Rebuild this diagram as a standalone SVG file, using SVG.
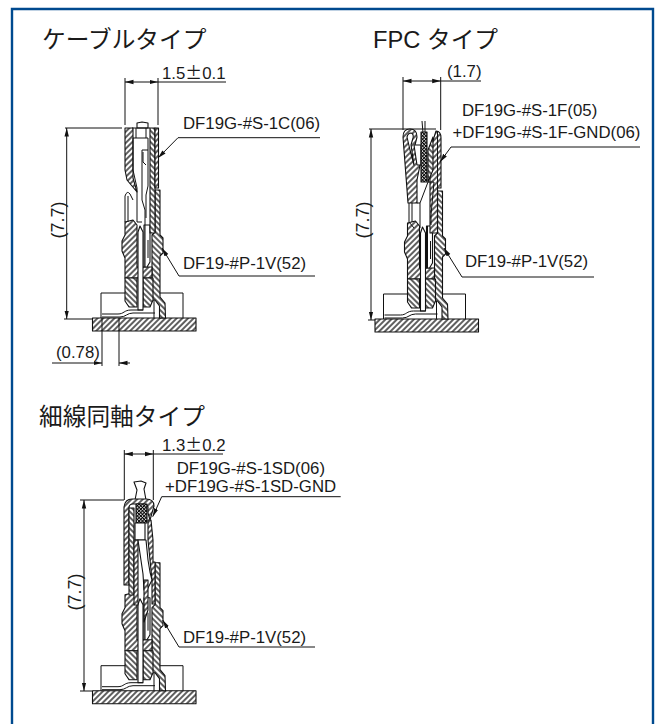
<svg xmlns="http://www.w3.org/2000/svg" xmlns:xlink="http://www.w3.org/1999/xlink" width="656" height="724" viewBox="0 0 656 724">
<style>
.t{font-family:"Liberation Sans",Arial,sans-serif;font-size:16.8px;fill:#1a1a1a}
.v{font-size:18px}
.h{font-family:"Liberation Sans","Noto Sans CJK JP",sans-serif;font-size:23.7px;fill:#1a1a1a}
.j{font-family:"Noto Sans CJK JP",sans-serif}
.l{fill:none;stroke:#111;stroke-width:1}
.o{stroke:#111;stroke-width:1.1;stroke-linejoin:round}
.f{fill:url(#hf)}.b{fill:url(#hb)}.x{fill:url(#hx)}.w{fill:#fff}
</style>
<defs>
<pattern id="hf" width="4" height="4" patternUnits="userSpaceOnUse" patternTransform="rotate(45)"><rect width="4" height="4" fill="#fff"/><line x1="2" y1="0" x2="2" y2="4" stroke="#000" stroke-width="1.25"/></pattern>
<pattern id="hb" width="4" height="4" patternUnits="userSpaceOnUse" patternTransform="rotate(-45)"><rect width="4" height="4" fill="#fff"/><line x1="2" y1="0" x2="2" y2="4" stroke="#000" stroke-width="1.25"/></pattern>
<pattern id="hx" width="2.4" height="2.4" patternUnits="userSpaceOnUse" patternTransform="rotate(45)"><rect width="2.4" height="2.4" fill="#fff"/><path d="M1.200 0V2.400M0 1.200H2.400" stroke="#000" stroke-width="1"/></pattern>
<marker id="a" markerWidth="9" markerHeight="6" refX="8.5" refY="3" orient="auto-start-reverse" markerUnits="userSpaceOnUse"><path d="M0 .8L8.5 3L0 5.2z" fill="#111"/></marker>
<g id="plug">
<rect class="o f" x="92.5" y="318" width="103.5" height="13"/>
<path class="l" d="M126 293H101V318M160 293H183V318"/>
<path class="o b" d="M155 190H160V235L163 238V253L160 256V297L165 303L165.500 318H159.500V306L155 300H152V235L155 232Z"/>
<path class="o f" d="M125 222L133 220L137 225V267H152V278H125V258L122 251V241L125 235Z"/>
<path class="o b" d="M125 278H137V307H129L125 301Z"/>
<path class="o b" d="M143 278H153V300L150 307H143Z"/>
<path class="o w" d="M138 232L140 226L143 232V310H138Z"/>
<path class="o w" d="M144 225H150V262L147 267H144Z"/>
<path class="l" d="M145 225V267M148 240V258"/>
<path class="l" d="M102 314H118C124 314 124 310 131 310H143M102 317H120C126 317 127 313 133 313H155M154 300V318"/>
</g>
</defs>
<path id="frame" d="M12 724V9H653V724" fill="none" stroke="#004a8f" stroke-width="2.4"/>

<g id="cable-type">
<text class="h" x="42" y="48">ケーブルタイプ</text>
<g id="cable-drawing">
<use href="#plug" xlink:href="#plug"/>
<path class="o w" d="M137 128V123L142 122L148 123V128Z"/>
<path class="o f" d="M125 128H133V178L137 192L127 180L125 170Z"/>
<path class="o b" d="M150 128H155V233H150V190Z"/>
<path class="o f" d="M155 128H158.500V188H155Z"/>
<path class="l" d="M132 128H150M136 128V138M146 128V138M133 138H148V150"/>
<path class="l" d="M133 138V170L137 188V222M148 150H142V200L145 210V225M148 150V186L146 195V218M137 222H142"/>
<path class="l" d="M125 222V196Q127 190 130 194L133 200M128 196V222"/>
<path class="l" d="M143 152V162L146 165"/>
</g>
<g id="cable-dims">
<path class="l" d="M125 78V125M158 78V125M65 128H122M64 319H92M102 318V366M119 318V366"/>
<path class="l" d="M125 82H158" marker-start="url(#a)" marker-end="url(#a)"/>
<path class="l" d="M158 82H226"/>
<path class="l" d="M66.700 128V319" marker-start="url(#a)" marker-end="url(#a)"/>
<path class="l" d="M52 363H102" marker-end="url(#a)"/>
<path class="l" d="M130 363H119" marker-end="url(#a)"/>
<path class="l" d="M320 137.700H178L158 158" marker-end="url(#a)"/>
<path class="l" d="M315 276H179L162 248" marker-end="url(#a)"/>
<text class="t" x="162" y="79">1.5<tspan class="j">±</tspan>0.1</text>
<text class="t" x="183" y="129">DF19G-#S-1C(06)</text>
<text class="t" x="183" y="269">DF19-#P-1V(52)</text>
<text class="t" x="56" y="358">(0.78)</text>
<text class="t v" transform="translate(63.500 220) rotate(-90)" text-anchor="middle">(7.7)</text>
</g>
</g>

<g id="fpc-type">
<text class="h" x="373" y="47.500">FPC タイプ</text>
<g id="fpc-drawing">
<use href="#plug" xlink:href="#plug" transform="translate(282.500 1)"/>
<path class="l" d="M422 121L423 133M425 121V133M405 129H436"/>
<path class="o f" d="M403 137Q403 129 410 129Q417 129 417 137L415 145L420 165L417 180V203H408Z"/>
<path class="o w" d="M407 137Q408 133 411 133Q414 134 413 138L411 145L414 165L410 150Z"/>
<path class="o w" d="M414 145H421V165H417Z"/>
<path class="o x" d="M421 132H427V182H421Z"/>
<path class="o f" d="M430 233V150L436 131Q441 131 441 138V188H437.500V233Z"/>
<path class="o b" d="M428 150L433 137V170L428 182Z"/>
<path class="l" d="M437.500 131V188M417 203H420L428 182H434L431 215V225M420 203V228"/>
<path class="l" d="M409 203V222M412 203V222M409 222L414 228"/>
</g>
<g id="fpc-dims">
<path class="l" d="M403 77V130M440.700 77V130M369 129H405M368 320H375"/>
<path class="l" d="M403 81H440.700" marker-start="url(#a)" marker-end="url(#a)"/>
<path class="l" d="M440.700 81H481"/>
<path class="l" d="M371 129V320" marker-start="url(#a)" marker-end="url(#a)"/>
<path class="l" d="M640 147H451L440 162" marker-end="url(#a)"/>
<path class="l" d="M594 277H462L444 248" marker-end="url(#a)"/>
<text class="t" x="447" y="77">(1.7)</text>
<text class="t" x="462" y="116">DF19G-#S-1F(05)</text>
<text class="t" x="452.500" y="138">+DF19G-#S-1F-GND(06)</text>
<text class="t" x="465" y="267">DF19-#P-1V(52)</text>
<text class="t v" transform="translate(368.500 220) rotate(-90)" text-anchor="middle">(7.7)</text>
</g>
</g>

<g id="coaxial-type">
<text class="h" x="39" y="425">細線同軸タイプ</text>
<g id="coaxial-drawing">
<use href="#plug" xlink:href="#plug" transform="translate(0 372.700)"/>
<path class="o w" d="M134 482L141 481L146 483L144 489L146 500H135L137 490Z"/>
<path class="o f" d="M124 507Q125 499 132 499H146Q154 499 154 506L150 520L148 513V507Q147 504 143 504H133Q129 504 129 508V585H124Z"/>
<path class="o b" d="M129 508H134V540V595H129Z"/>
<path class="o x" d="M136 504H147V523H136Z"/>
<path class="o w" d="M135 523H145V540H135Z"/>
<path class="o f" d="M148 520H151L153 540V562H155V604H152V580L148 540Z"/>
<path class="o f" d="M134 540H138V605H134Z"/>
<path class="o w" d="M138 540H146L148 560L150 572L152 580L147 590H144L143 574Z"/>
<path class="o f" d="M144 580H148V610L144 622Z"/>
</g>
<g id="coaxial-dims">
<path class="l" d="M124.300 450V500M153.300 450V500M80 500H124M80 691H92"/>
<path class="l" d="M124.300 454H153.300" marker-start="url(#a)" marker-end="url(#a)"/>
<path class="l" d="M153.300 454H223"/>
<path class="l" d="M84 500V691" marker-start="url(#a)" marker-end="url(#a)"/>
<path class="l" d="M340.700 496.700H161.700L152.700 516.700" marker-end="url(#a)"/>
<path class="l" d="M315 647H179L162.700 620" marker-end="url(#a)"/>
<text class="t" x="162" y="451">1.3<tspan class="j">±</tspan>0.2</text>
<text class="t" x="176.700" y="474">DF19G-#S-1SD(06)</text>
<text class="t" x="165" y="492">+DF19G-#S-1SD-GND</text>
<text class="t" x="183" y="643">DF19-#P-1V(52)</text>
<text class="t v" transform="translate(80.500 592) rotate(-90)" text-anchor="middle">(7.7)</text>
</g>
</g>
</svg>
